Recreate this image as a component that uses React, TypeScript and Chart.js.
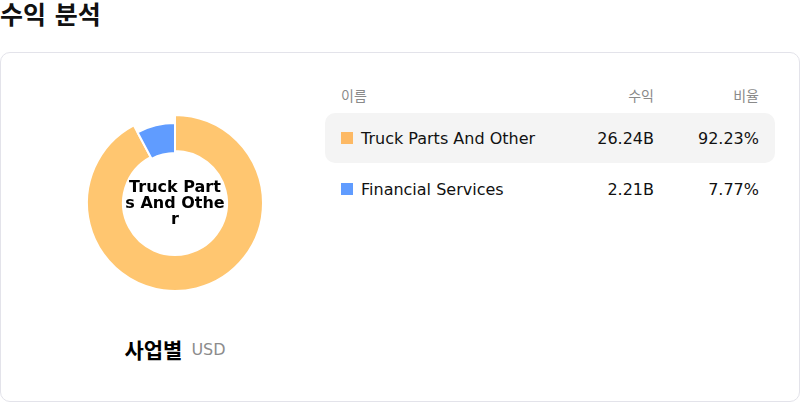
import { useEffect, useRef } from 'react';
import { Chart, registerables } from 'chart.js';

Chart.register(...registerables);

// revenue by business segment (USD, billions)
const segments = ['Truck Parts And Other', 'Financial Services'];
const revenue = [26.24, 2.21];
const shares = [92.23, 7.77];
const revenueLabels = ['26.24B', '2.21B'];
const activeIndex = 0;

const sliceColors = ['#FFC670', '#609CFF'];
const swatchColors = ['#FDB964', '#609CFF'];
const FONT = "'DejaVu Sans', 'Noto Sans CJK KR', sans-serif";

// makes the selected slice stand out a bit from the ring
const growActive = {
  id: 'growActive',
  beforeDatasetsDraw(chart: any) {
    const arc = chart.getDatasetMeta(0).data[activeIndex];
    if (!arc) return;
    arc.outerRadius = 88;
    arc.innerRadius = 52;
  },
};

function Donut() {
  const ref = useRef<HTMLCanvasElement>(null);

  useEffect(() => {
    if (!ref.current) return;
    const chart = new Chart(ref.current, {
      type: 'doughnut',
      data: {
        labels: segments,
        datasets: [
          {
            data: revenue,
            backgroundColor: sliceColors,
            borderColor: '#ffffff',
            borderWidth: 2,
            hoverOffset: 0,
          },
        ],
      },
      options: {
        responsive: false,
        maintainAspectRatio: false,
        animation: false,
        events: [],
        radius: 80,
        cutout: '62.5%',
        layout: { padding: 0 },
        plugins: {
          legend: { display: false },
          tooltip: { enabled: false },
        },
      },
      plugins: [growActive],
    });
    return () => chart.destroy();
  }, []);

  return <canvas ref={ref} width={200} height={200} style={{ position: 'absolute', left: 75, top: 103 }} />;
}

export default function App() {
  useEffect(() => {
    document.body.style.margin = '0';
  }, []);

  return (
    <div style={{ position: 'absolute', left: 0, top: 0, width: 800, height: 402, fontFamily: FONT, color: '#111' }}>
      <div style={{ position: 'absolute', left: 0, top: 0, height: 32, lineHeight: '32px', fontSize: 25, fontWeight: 700 }}>
        수익 분석
      </div>

      <div
        style={{
          position: 'absolute',
          left: 0,
          top: 52,
          width: 800,
          height: 350,
          boxSizing: 'border-box',
          border: '1px solid #e3e3ea',
          borderRadius: 10,
        }}
      />

      <Donut />

      <div
        style={{
          position: 'absolute',
          left: 175,
          top: 203,
          transform: 'translate(-50%, -50%)',
          width: 101,
          textAlign: 'center',
          wordBreak: 'break-all',
          fontSize: 16,
          fontWeight: 700,
          lineHeight: '16px',
          color: '#000',
        }}
      >
        {segments[activeIndex]}
      </div>

      <div
        style={{
          position: 'absolute',
          left: 0,
          width: 350,
          top: 335,
          height: 28,
          display: 'flex',
          justifyContent: 'center',
          alignItems: 'center',
          gap: 9,
        }}
      >
        <span style={{ fontSize: 21, fontWeight: 700, color: '#000' }}>사업별</span>
        <span style={{ fontSize: 16, color: '#8c8c8c' }}>USD</span>
      </div>

      <div style={{ position: 'absolute', left: 325, top: 82, width: 450 }}>
        <div style={{ display: 'flex', alignItems: 'center', height: 26, padding: '0 16px', fontSize: 14, color: '#8a8a8a' }}>
          <div style={{ flex: 1 }}>이름</div>
          <div style={{ width: 100, textAlign: 'right' }}>수익</div>
          <div style={{ width: 105, textAlign: 'right' }}>비율</div>
        </div>
        <div style={{ height: 5 }} />
        {segments.map((name, i) => (
          <div
            key={name}
            style={{
              display: 'flex',
              alignItems: 'center',
              height: 50,
              marginBottom: 1,
              padding: '0 16px',
              borderRadius: 10,
              background: i === activeIndex ? '#f4f4f4' : 'transparent',
              fontSize: 16,
              color: '#111',
            }}
          >
            <div style={{ flex: 1, display: 'flex', alignItems: 'center' }}>
              <span style={{ width: 12, height: 12, background: swatchColors[i], marginRight: 8, display: 'inline-block' }} />
              {name}
            </div>
            <div style={{ width: 100, textAlign: 'right' }}>{revenueLabels[i]}</div>
            <div style={{ width: 105, textAlign: 'right' }}>{shares[i].toFixed(2)}%</div>
          </div>
        ))}
      </div>
    </div>
  );
}
